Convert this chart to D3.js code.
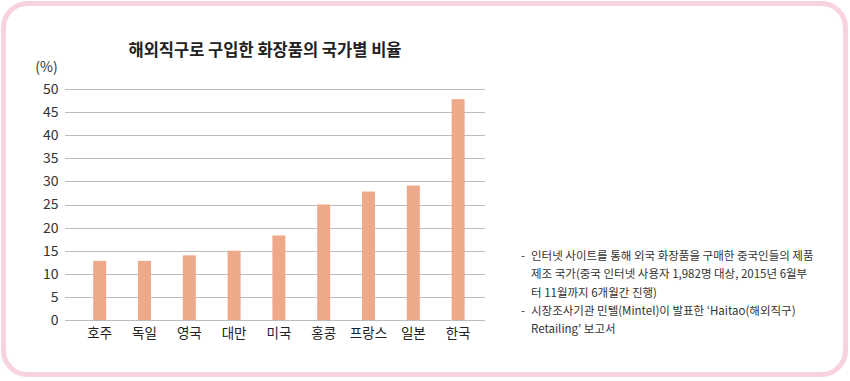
<!DOCTYPE html>
<html>
<head>
<meta charset="utf-8">
<script src="https://cdn.jsdelivr.net/npm/d3@7"></script>
<style>
  body { margin: 0; background: #fff; }
  svg { display: block; font-family: "Noto Sans CJK KR", "Noto Sans", sans-serif; }
</style>
</head>
<body>
<svg id="chart"></svg>
<script>
// data
const countries = ['호주', '독일', '영국', '대만', '미국', '홍콩', '프랑스', '일본', '한국']
const shares = [12.8, 12.8, 14, 15, 18.3, 25, 27.8, 29.1, 47.8]
const yTicks = [0, 5, 10, 15, 20, 25, 30, 35, 40, 45, 50]
const notes = [
  ['- ', '인터넷 사이트를 통해 외국 화장품을 구매한 중국인들의 제품'],
  ['', '제조 국가(중국 인터넷 사용자 1,982명 대상, 2015년 6월부'],
  ['', '터 11월까지 6개월간 진행)'],
  ['- ', '시장조사기관 민텔(Mintel)이 발표한 ‘Haitao(해외직구)'],
  ['', 'Retailing’ 보고서']
]

const W = 850, H = 381
const svg = d3.select('#chart').attr('width', W).attr('height', H)

// pink rounded frame
svg.append('rect')
   .attr('x', 3.5).attr('y', 3.5)
   .attr('width', 842).attr('height', 371)
   .attr('rx', 24)
   .attr('fill', '#fff')
   .attr('stroke', '#f8d2dd')
   .attr('stroke-width', 5)

const yscale = d3.scaleLinear().domain([0, 50]).range([320, 89])
const xscale = d3.scaleBand().domain(countries).range([77.3, 480.5]).paddingInner(0.71).paddingOuter(0.355)
const gridLeft = 65, gridRight = 485

// gridlines
svg.append('g').selectAll('line')
   .data(yTicks)
   .join('line')
   .attr('x1', gridLeft).attr('x2', gridRight)
   .attr('y1', d => Math.round(yscale(d)) + 0.5)
   .attr('y2', d => Math.round(yscale(d)) + 0.5)
   .attr('stroke', '#bdbdbd')
   .attr('stroke-width', 1)

// y axis labels
svg.append('g').selectAll('text')
   .data(yTicks)
   .join('text')
   .attr('x', 58.5)
   .attr('y', d => yscale(d))
   .attr('dy', '0.35em')
   .attr('text-anchor', 'end')
   .attr('font-size', 14)
   .attr('fill', '#333')
   .text(d => d)

svg.append('text')
   .attr('x', 46.5).attr('y', 67)
   .attr('dy', '0.35em')
   .attr('text-anchor', 'middle')
   .attr('font-size', 14)
   .attr('fill', '#333')
   .text('(%)')

// bars
svg.append('g').selectAll('rect')
   .data(shares)
   .join('rect')
   .attr('x', (d, i) => xscale(countries[i]))
   .attr('y', d => yscale(d))
   .attr('width', xscale.bandwidth())
   .attr('height', d => yscale(0) - yscale(d))
   .attr('fill', '#eda98a')

// category labels
svg.append('g').selectAll('text')
   .data(countries)
   .join('text')
   .attr('x', d => xscale(d) + xscale.bandwidth() / 2)
   .attr('y', 338)
   .attr('text-anchor', 'middle')
   .attr('font-size', 13.5)
   .attr('fill', '#222')
   .text(d => d)

// title
svg.append('text')
   .attr('x', 265).attr('y', 56)
   .attr('text-anchor', 'middle')
   .attr('font-size', 16.5)
   .attr('font-weight', 700)
   .attr('fill', '#222')
   .text('해외직구로 구입한 화장품의 국가별 비율')

// source notes
const noteG = svg.append('g').attr('font-size', 11.5).attr('fill', '#333')
noteG.selectAll('text.dash')
   .data(notes.filter(n => n[0]))
   .join('text')
   .attr('class', 'dash')
   .attr('x', 521)
   .attr('y', d => 260 + notes.indexOf(d) * 18.3)
   .text('-')
noteG.selectAll('text.line')
   .data(notes)
   .join('text')
   .attr('class', 'line')
   .attr('x', 531)
   .attr('y', (d, i) => 260 + i * 18.3)
   .text(d => d[1])
</script>
</body>
</html>
